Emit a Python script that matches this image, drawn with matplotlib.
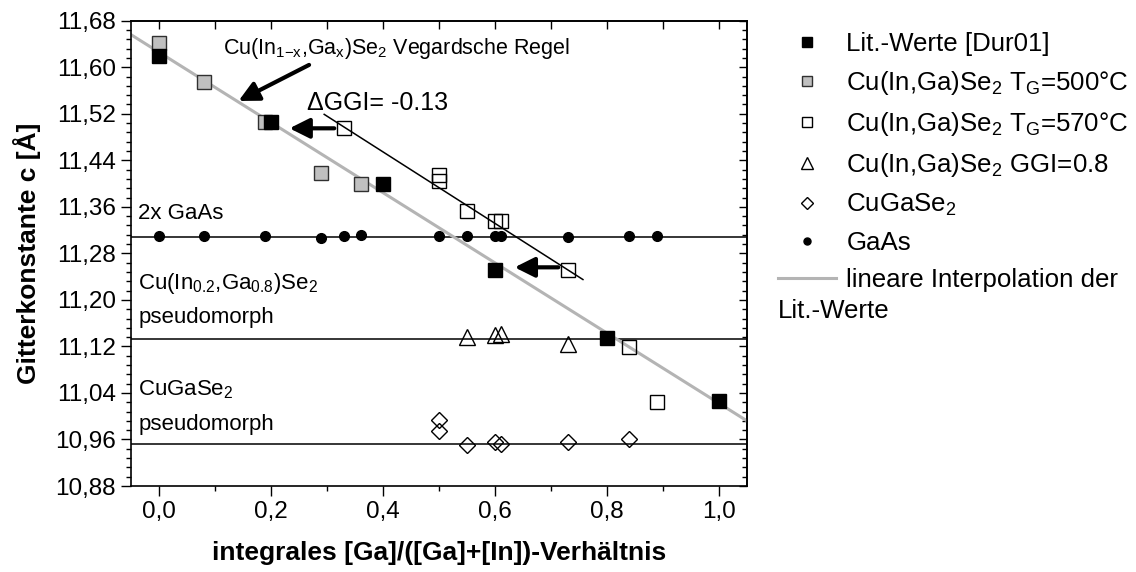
import numpy as np
import matplotlib
matplotlib.use('Agg')
import matplotlib.pyplot as plt
from matplotlib.ticker import AutoMinorLocator

plt.rcParams['font.family'] = ['Liberation Sans', 'DejaVu Sans']
plt.rcParams['mathtext.fontset'] = 'custom'
plt.rcParams['mathtext.rm'] = 'Liberation Sans'
plt.rcParams['mathtext.it'] = 'Liberation Sans:italic'
plt.rcParams['mathtext.bf'] = 'Liberation Sans:bold'

# Lit.-Werte [Dur01]
lit_x = [0.0, 0.2, 0.4, 0.6, 0.8, 1.0]
lit_c = [11.620, 11.506, 11.400, 11.251, 11.135, 11.027]

# Cu(In,Ga)Se2 TG=500C
tg500_x = [0.0, 0.08, 0.19, 0.29, 0.36]
tg500_c = [11.642, 11.575, 11.505, 11.419, 11.400]

# Cu(In,Ga)Se2 TG=570C
tg570_x = [0.33, 0.50, 0.50, 0.55, 0.60, 0.61, 0.73, 0.84, 0.89]
tg570_c = [11.495, 11.415, 11.405, 11.352, 11.336, 11.336, 11.251, 11.119, 11.025]

# Cu(In,Ga)Se2 GGI=0.8
ggi08_x = [0.55, 0.60, 0.61, 0.73]
ggi08_c = [11.136, 11.140, 11.141, 11.125]

# CuGaSe2
cgs_x = [0.50, 0.50, 0.55, 0.60, 0.61, 0.73, 0.84]
cgs_c = [10.993, 10.975, 10.950, 10.956, 10.953, 10.956, 10.960]

# GaAs (2x)
gaas_x = [0.0, 0.08, 0.19, 0.29, 0.33, 0.36, 0.50, 0.55, 0.60, 0.61, 0.73, 0.84, 0.89]
gaas_c = [11.309, 11.309, 11.309, 11.307, 11.309, 11.312, 11.309, 11.309, 11.309,
          11.309, 11.308, 11.309, 11.309]

# horizontal reference lines
gaas_ref = 11.308
ggi08_ref = 11.133
cgs_ref = 10.953

# lineare Interpolation der Lit.-Werte (end points)
vegard_x = [-0.05, 1.05]
vegard_c = [11.656, 10.992]

# shifted line (dGGI = -0.13)
shift_x = [0.295, 0.757]
shift_c = [11.519, 11.235]

x_ticks = [0.0, 0.2, 0.4, 0.6, 0.8, 1.0]
x_tick_labels = ['0,0', '0,2', '0,4', '0,6', '0,8', '1,0']
y_ticks = [10.88, 10.96, 11.04, 11.12, 11.20, 11.28, 11.36, 11.44, 11.52, 11.60, 11.68]
y_tick_labels = ['10,88', '10,96', '11,04', '11,12', '11,20', '11,28', '11,36',
                 '11,44', '11,52', '11,60', '11,68']

fig = plt.figure(figsize=(11.36, 5.72), dpi=100)
ax = fig.add_axes([0.1153, 0.1503, 0.5423, 0.8135])

ax.axhline(gaas_ref, color='k', lw=1.1, zorder=1)
ax.axhline(ggi08_ref, color='k', lw=1.1, zorder=1)
ax.axhline(cgs_ref, color='k', lw=1.1, zorder=1)

l_vegard, = ax.plot(vegard_x, vegard_c, color='#b4b4b4', lw=2.2, zorder=2)
ax.plot(shift_x, shift_c, color='k', lw=1.1, zorder=4)

ms_sq = 9.5
h_570, = ax.plot(tg570_x, tg570_c, 's', ms=ms_sq, mfc='none', mec='k', mew=1.0, ls='none', zorder=3)
h_500, = ax.plot(tg500_x, tg500_c, 's', ms=ms_sq, mfc='#c0c0c0', mec='#303030', mew=1.0, ls='none', zorder=3)
h_lit, = ax.plot(lit_x, lit_c, 's', ms=ms_sq, mfc='k', mec='k', mew=1.0, ls='none', zorder=5)
h_ggi, = ax.plot(ggi08_x, ggi08_c, '^', ms=12, mfc='none', mec='k', mew=1.0, ls='none', zorder=3)
h_cgs, = ax.plot(cgs_x, cgs_c, 'D', ms=8.5, mfc='none', mec='k', mew=1.0, ls='none', zorder=3)
h_gaas, = ax.plot(gaas_x, gaas_c, 'o', ms=7, mfc='k', mec='k', ls='none', zorder=5)

# Pfeile
arrow_kw = dict(arrowstyle='-|>,head_length=0.6,head_width=0.3', lw=3, color='k',
                mutation_scale=20, shrinkA=0, shrinkB=0)
ax.annotate('', xy=(0.142, 11.542), xytext=(0.268, 11.604), arrowprops=arrow_kw)
ax.annotate('', xy=(0.233, 11.495), xytext=(0.313, 11.495), arrowprops=arrow_kw)
ax.annotate('', xy=(0.635, 11.256), xytext=(0.713, 11.256), arrowprops=arrow_kw)

# Beschriftungen
ax.text(0.115, 11.632, r'Cu(In$_\mathregular{1{-}x}$,Ga$_\mathregular{x}$)Se$_\mathregular{2}$ Vegardsche Regel',
        fontsize=15.5, va='center', ha='left')
ax.text(0.264, 11.539, 'ΔGGI= -0.13', fontsize=18, va='center', ha='left')
ax.text(-0.037, 11.348, '2x GaAs', fontsize=16, va='center', ha='left')
ax.text(-0.037, 11.229, r'Cu(In$_\mathregular{0.2}$,Ga$_\mathregular{0.8}$)Se$_\mathregular{2}$',
        fontsize=16, va='center', ha='left')
ax.text(-0.037, 11.169, 'pseudomorph', fontsize=16, va='center', ha='left')
ax.text(-0.037, 11.045, r'CuGaSe$_\mathregular{2}$', fontsize=16, va='center', ha='left')
ax.text(-0.037, 10.985, 'pseudomorph', fontsize=16, va='center', ha='left')

ax.set_xlim(-0.05, 1.05)
ax.set_ylim(10.88, 11.68)
ax.set_xticks(x_ticks)
ax.set_xticklabels(x_tick_labels)
ax.set_yticks(y_ticks)
ax.set_yticklabels(y_tick_labels)
ax.xaxis.set_minor_locator(AutoMinorLocator(2))
ax.yaxis.set_minor_locator(AutoMinorLocator(5))
ax.tick_params(which='major', direction='out', length=7, width=1.0, labelsize=17.5, pad=4,
               top=False, right=False)
ax.tick_params(which='minor', direction='out', length=3.8, width=1.0, top=False, right=False)

secx = ax.secondary_xaxis('top')
secx.set_xticks(x_ticks)
secx.xaxis.set_minor_locator(AutoMinorLocator(2))
secx.tick_params(which='both', direction='in', length=6, width=1.0, labeltop=False)
secy = ax.secondary_yaxis('right')
secy.set_yticks(y_ticks)
secy.yaxis.set_minor_locator(AutoMinorLocator(5))
secy.tick_params(which='major', direction='in', length=6, width=1.0, labelright=False)
secy.tick_params(which='minor', direction='in', length=3.8, width=1.0, labelright=False)

for sp in ax.spines.values():
    sp.set_linewidth(1.2)
secx.spines['top'].set_linewidth(1.2)
secy.spines['right'].set_linewidth(1.2)

ax.set_xlabel('integrales [Ga]/([Ga]+[In])-Verhältnis', fontsize=19, fontweight='bold', labelpad=13)
ax.set_ylabel('Gitterkonstante c [Å]', fontsize=19, fontweight='bold', labelpad=10)

handles = [h_lit, h_500, h_570, h_ggi, h_cgs, h_gaas, l_vegard]
labels = ['Lit.-Werte [Dur01]',
          r'Cu(In,Ga)Se$_\mathregular{2}$ T$_\mathregular{G}$=500°C',
          r'Cu(In,Ga)Se$_\mathregular{2}$ T$_\mathregular{G}$=570°C',
          r'Cu(In,Ga)Se$_\mathregular{2}$ GGI=0.8',
          r'CuGaSe$_\mathregular{2}$',
          'GaAs',
          'lineare Interpolation der']
leg = fig.legend(handles, labels, loc='upper left', bbox_to_anchor=(778 / 1136, 1 - 32 / 572),
                 frameon=False, fontsize=18.6, markerscale=0.72, handlelength=2.25,
                 handletextpad=0.4, labelspacing=0.5, borderaxespad=0, borderpad=0)
fig.text(778 / 1136, 1 - 311 / 572, 'Lit.-Werte', fontsize=18.6, va='center', ha='left')

fig.savefig('out.png', dpi=100)
